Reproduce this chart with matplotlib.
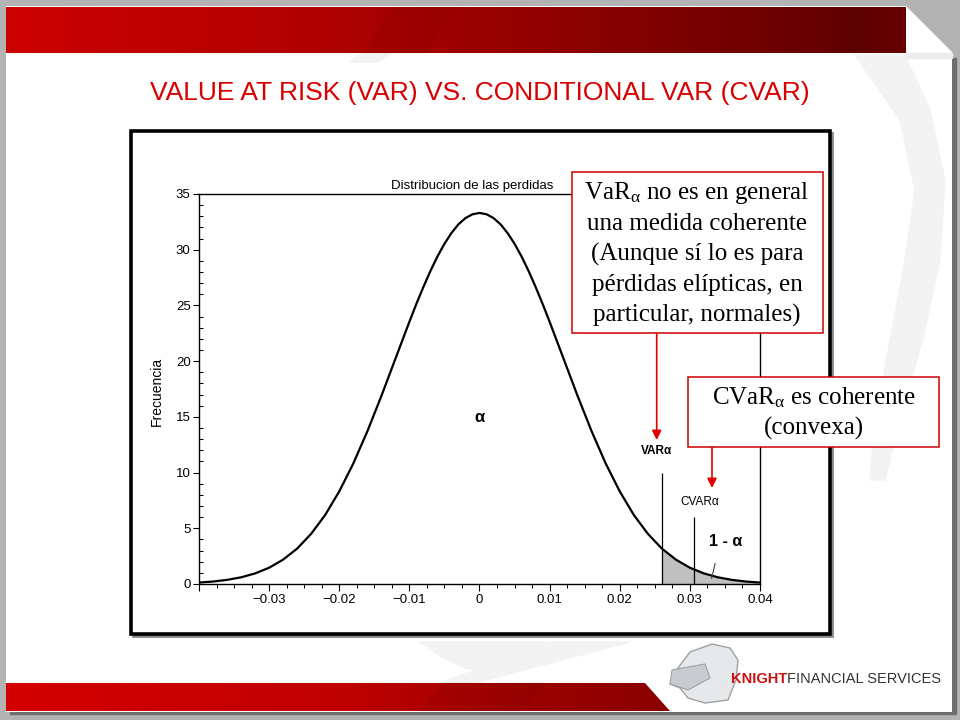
import numpy as np
import matplotlib
matplotlib.use("Agg")
import matplotlib.pyplot as plt
from matplotlib.patches import Rectangle, Polygon
from matplotlib.colors import LinearSegmentedColormap

plt.rcParams['font.family'] = ['Liberation Sans', 'DejaVu Sans']
plt.rcParams['mathtext.fontset'] = 'custom'
plt.rcParams['mathtext.rm'] = 'Liberation Serif'
plt.rcParams['mathtext.it'] = 'Liberation Serif:italic'

# ---------------- data ----------------
x_loss = [-0.040, -0.038, -0.036, -0.034, -0.032, -0.030, -0.028, -0.026, -0.024,
          -0.022, -0.020, -0.018, -0.016, -0.014, -0.012, -0.010, -0.009, -0.008,
          -0.007, -0.006, -0.005, -0.004, -0.003, -0.002, -0.001, 0.000, 0.001,
          0.002, 0.003, 0.004, 0.005, 0.006, 0.007, 0.008, 0.009, 0.010, 0.012,
          0.014, 0.016, 0.018, 0.020, 0.022, 0.024, 0.026, 0.028, 0.030, 0.032,
          0.034, 0.036, 0.038, 0.040]
frequency = [0.13, 0.22, 0.37, 0.60, 0.95, 1.46, 2.19, 3.18, 4.51,
             6.20, 8.31, 10.81, 13.69, 16.86, 20.20, 23.53, 25.14, 26.66,
             28.09, 29.39, 30.53, 31.50, 32.28, 32.84, 33.18, 33.30, 33.18,
             32.84, 32.28, 31.50, 30.53, 29.39, 28.09, 26.66, 25.14, 23.53, 20.20,
             16.86, 13.69, 10.81, 8.31, 6.20, 4.51, 3.18, 2.19, 1.46, 0.95,
             0.60, 0.37, 0.22, 0.13]
var_level = 0.026
cvar_level = 0.0306
var_line_top = 10.0
cvar_line_top = 6.0

x_ticks = [-0.04, -0.03, -0.02, -0.01, 0.0, 0.01, 0.02, 0.03, 0.04]
x_tick_labels = ['', '\u22120.03', '\u22120.02', '\u22120.01', '0', '0.01', '0.02', '0.03', '0.04']
y_ticks = [0, 5, 10, 15, 20, 25, 30, 35]
y_tick_labels = ['0', '5', '10', '15', '20', '25', '30', '35']

slide_title = 'VALUE AT RISK (VAR) VS. CONDITIONAL VAR (CVAR)'
chart_title = 'Distribucion de las perdidas'
y_label = 'Frecuencia'
box1_lines = [r'VaR$_{\mathrm{\alpha}}$ no es en general', 'una medida coherente',
              '(Aunque sí lo es para', 'pérdidas elípticas, en', 'particular, normales)']
box2_lines = [r'CVaR$_{\mathrm{\alpha}}$ es coherente', '(convexa)']

# ---------------- figure ----------------
fig = plt.figure(figsize=(9.6, 7.2), dpi=100)

bg = fig.add_axes([0, 0, 1, 1], zorder=0)
bg.set_xlim(0, 960)
bg.set_ylim(720, 0)
bg.axis('off')
bg.add_patch(Rectangle((0, 0), 960, 720, color='#b3b3b3', zorder=0))
# shadow
bg.add_patch(Polygon([(10, 714), (956, 714), (956, 58), (952, 58), (952, 712), (10, 712)],
                     closed=True, color='#6e6e6e', zorder=1))
slide = Polygon([(6, 6), (906, 6), (952, 52), (952, 712), (6, 712)], closed=True,
                facecolor='white', edgecolor='none', zorder=1)
bg.add_patch(slide)
# watermark shapes
wm = '#f3f3f3'
bg.add_patch(Polygon([(855, 55), (905, 55), (930, 110), (945, 180), (940, 260), (925, 330),
                      (900, 420), (885, 480), (870, 480), (875, 420), (892, 330), (905, 260),
                      (915, 190), (900, 120)], closed=True, color=wm, zorder=1.5))
bg.add_patch(Polygon([(420, 642), (548, 642), (510, 665), (488, 672), (465, 668), (440, 656)],
                     closed=True, color=wm, zorder=1.5))
bg.add_patch(Polygon([(552, 642), (630, 642), (475, 683), (440, 683)], closed=True,
                     color=wm, zorder=1.5))
bg.add_patch(Polygon([(362, 53), (392, 53), (378, 62), (350, 62)], closed=True,
                     color=wm, zorder=1.5))
# fold shading
bg.add_patch(Polygon([(906, 53), (952, 53), (952, 58), (906, 58)], closed=True,
                     color='#ededed', zorder=1.6))

# top red gradient bar
cmap_top = LinearSegmentedColormap.from_list('top', [(0, '#cc0000'), (0.35, '#b00000'),
                                                      (0.6, '#900000'), (0.85, '#700000'),
                                                      (0.95, '#5c0000'), (1.0, '#680000')])
grad = np.linspace(0, 1, 256).reshape(1, -1)
bg.imshow(grad, cmap=cmap_top, extent=[6, 906, 53, 7], aspect='auto', zorder=2)
bg.add_patch(Polygon([(395, 7), (455, 7), (425, 53), (365, 53)], closed=True,
                     color='black', alpha=0.03, zorder=2.1))
# bottom red bar
cmap_bot = LinearSegmentedColormap.from_list('bot', [(0, '#d40000'), (0.5, '#c00000'),
                                                      (0.8, '#9a0000'), (1.0, '#8a0000')])
im = bg.imshow(grad, cmap=cmap_bot, extent=[6, 670, 711, 683], aspect='auto', zorder=2)
clip = Polygon([(6, 683), (645, 683), (670, 711), (6, 711)], closed=True,
               transform=bg.transData, facecolor='none', edgecolor='none')
bg.add_patch(clip)
im.set_clip_path(clip)
bg.add_patch(Polygon([(445, 683), (545, 683), (520, 711), (420, 711)], closed=True,
                     color='black', alpha=0.04, zorder=2.1))
bg.set_xlim(0, 960)
bg.set_ylim(720, 0)

# slide title
bg.text(480, 93, slide_title, ha='center', va='center', fontsize=19,
        color='#d80000', family='Liberation Sans', zorder=3)

# chart frame
bg.add_patch(Rectangle((133, 133), 699, 503, facecolor='none', edgecolor='#888888',
                       lw=2, zorder=2.5))
bg.add_patch(Rectangle((131, 131), 699, 503, facecolor='white', edgecolor='black',
                       lw=2.6, zorder=3))

# ---------------- chart ----------------
ax = fig.add_axes([199 / 960, (720 - 584) / 720, 561 / 960, 390 / 720], zorder=2)
ax.set_facecolor('white')
xa = np.array(x_loss)
ya = np.array(frequency)
ax.fill_between(xa, 0, ya, where=xa >= var_level - 1e-9, color='#c0c0c0', lw=0, zorder=1)
ax.plot(xa, ya, color='black', lw=1.6, zorder=3)
ax.vlines([var_level, cvar_level], 0, [var_line_top, cvar_line_top], colors='black',
          lw=0.9, zorder=2)
ax.plot([0.0331, 0.0336], [0.5, 1.85], color='#444444', lw=0.8, zorder=4)

ax.set_xlim(-0.04, 0.04)
ax.set_ylim(0, 35)
ax.set_xticks(x_ticks)
ax.set_xticklabels(x_tick_labels)
ax.set_xticks(np.arange(-0.04, 0.0401, 0.0025), minor=True)
ax.set_yticks(y_ticks)
ax.set_yticklabels(y_tick_labels)
ax.set_yticks(np.arange(0, 35.5, 1), minor=True)
ax.tick_params(axis='x', which='major', direction='out', length=5, width=0.8, pad=2,
               labelsize=9.5)
ax.tick_params(axis='x', which='minor', direction='out', length=3, width=0.7)
ax.tick_params(axis='y', which='major', direction='out', length=4, width=0.8, pad=2,
               labelsize=9.5)
ax.tick_params(axis='y', which='minor', direction='in', length=3, width=0.7)
for s in ax.spines.values():
    s.set_linewidth(1.0)

ax.text(0.0, 14.9, '\u03b1', ha='center', va='center', fontsize=12, fontweight='bold')
ax.text(0.0253, 11.9, 'VAR\u03b1', ha='center', va='center', fontsize=8.5, fontweight='bold')
ax.text(0.0314, 7.4, 'CVAR\u03b1', ha='center', va='center', fontsize=8.5)
ax.text(0.0351, 3.8, '1 - \u03b1', ha='center', va='center', fontsize=11.5, fontweight='bold')

# ---------------- overlay ----------------
ov = fig.add_axes([0, 0, 1, 1], zorder=5)
ov.set_xlim(0, 960)
ov.set_ylim(720, 0)
ov.patch.set_alpha(0)
ov.axis('off')

ov.text(157, 391, y_label, rotation=90, ha='center', va='center', fontsize=10)
ov.text(472.5, 186.5, chart_title, ha='center', va='center', fontsize=9.5)

red = '#cc0000'
ov.add_patch(Rectangle((571.7, 171.7), 251, 161.6, facecolor='white', edgecolor=red, lw=1.1))
ov.add_patch(Rectangle((688.3, 376.7), 251, 70.6, facecolor='white', edgecolor=red, lw=1.1))
for i, line in enumerate(box1_lines):
    ov.text(697, 193.5 + i * 30.4, line, ha='center', va='center', fontsize=18,
            family='Liberation Serif')
for i, line in enumerate(box2_lines):
    ov.text(813.8, 397.3 + i * 31, line, ha='center', va='center', fontsize=18,
            family='Liberation Serif')

ov.annotate('', xy=(656.7, 440), xytext=(656.7, 333.5),
            arrowprops=dict(arrowstyle='-|>', color='#e00000', lw=1.2, mutation_scale=14,
                            shrinkA=0, shrinkB=0))
ov.annotate('', xy=(712, 488), xytext=(712, 447.5),
            arrowprops=dict(arrowstyle='-|>', color='#e00000', lw=1.2, mutation_scale=14,
                            shrinkA=0, shrinkB=0))

# logo
ov.add_patch(Polygon([(690, 652), (712, 644), (730, 648), (738, 660), (736, 680), (728, 700),
                      (705, 703), (688, 698), (680, 688), (670, 684), (678, 668)],
                     closed=True, facecolor='#e6e8ea', edgecolor='#9da1a5', lw=1))
ov.add_patch(Polygon([(672, 670), (705, 664), (710, 678), (688, 690), (670, 684)],
                     closed=True, facecolor='#c8ccd0', edgecolor='#9da1a5', lw=0.8))
ov.text(731.5, 679, 'KNIGHT', ha='left', va='center', fontsize=10.5, fontweight='bold',
        color='#cc1111')
ov.text(787, 679, 'FINANCIAL SERVICES', ha='left', va='center', fontsize=10.5,
        color='#333333')

fig.savefig('out.png', dpi=100)
